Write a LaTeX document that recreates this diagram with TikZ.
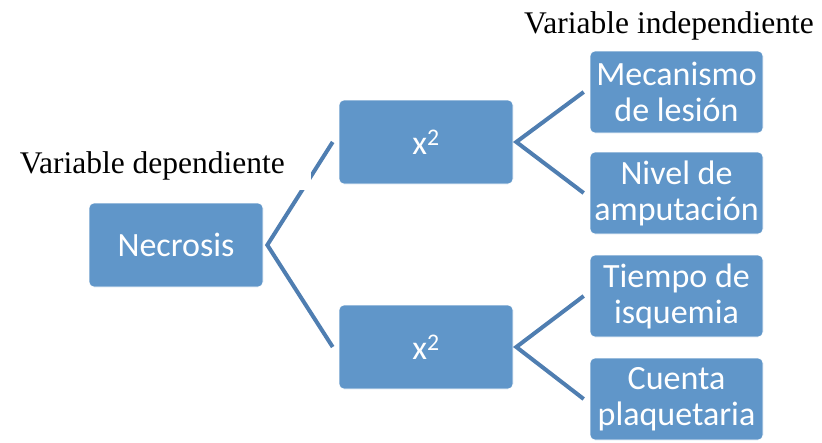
\documentclass[tikz,border=0pt]{standalone}
\usepackage{fontspec}
\setmainfont{Liberation Serif}
\newfontfamily\calibri{Carlito}
\usepackage{xcolor}

\definecolor{cajaazul}{RGB}{96,150,201}
\definecolor{lineaazul}{RGB}{79,126,177}

\begin{document}
\begin{tikzpicture}[x=1pt,y=-1pt,
    caja/.style={fill=cajaazul, draw=white, line width=0.6pt, rounded corners=5pt,
        minimum width=174pt, minimum height=84pt, inner sep=0pt, align=center,
        text=white, font=\calibri\fontsize{34}{36}\selectfont},
    hoja/.style={caja, minimum width=173pt, minimum height=82pt},
    conector/.style={lineaazul, line width=4pt},
    etiqueta/.style={font=\fontsize{31.5}{36}\selectfont, inner sep=0pt}]

    \useasboundingbox (0,0) rectangle (822,442);

    % variable dependiente
    \node[caja] (necrosis) at (176,245) {Necrosis};

    % pruebas x2
    \node[caja] (chiarriba) at (426,142) {x\textsuperscript{2}};
    \node[caja] (chiabajo) at (426,347) {x\textsuperscript{2}};

    % variables independientes
    \node[hoja] (mecanismo) at (676.5,92) {Mecanismo\\de lesión};
    \node[hoja] (nivel) at (676.5,193) {Nivel de\\amputación};
    \node[hoja] (tiempo) at (676.5,296) {Tiempo de\\isquemia};
    \node[hoja] (cuenta) at (676.5,399) {Cuenta\\plaquetaria};

    % conectores
    \draw[conector] ([xshift=-6pt]chiarriba.west) -- ([xshift=4pt]necrosis.east)
        -- ([xshift=-6pt]chiabajo.west);
    \draw[conector] ([xshift=-6pt]mecanismo.west) -- ([xshift=3pt]chiarriba.east)
        -- ([xshift=-6pt]nivel.west);
    \draw[conector] ([xshift=-6pt]tiempo.west) -- ([xshift=3pt]chiabajo.east)
        -- ([xshift=-6pt]cuenta.west);

    % leyendas
    \node[etiqueta, fill=white, inner xsep=26pt, inner ysep=10pt, anchor=base east]
        (vardep) at (311,173) {Variable dependiente};
    \node[etiqueta, anchor=base west] (varindep) at (524,33) {Variable independiente};

\end{tikzpicture}
\end{document}
